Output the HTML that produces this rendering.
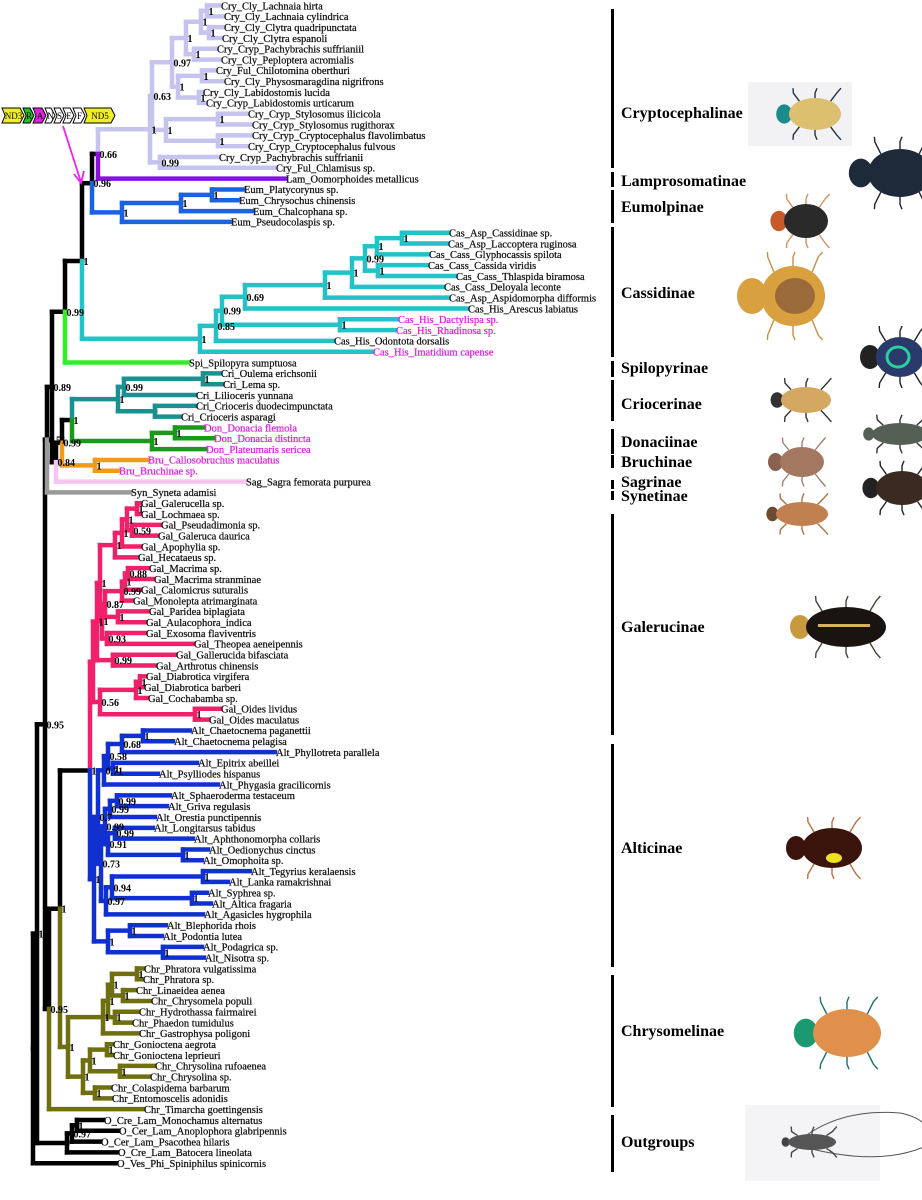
<!DOCTYPE html>
<html><head><meta charset="utf-8"><title>Chrysomelidae phylogeny</title>
<style>
html,body{margin:0;padding:0;background:#fff;}
svg{display:block;}
.leaf{font-family:"Liberation Serif",serif;font-size:10.5px;stroke-width:0.25px;}
.sup{font-family:"Liberation Serif",serif;font-size:10px;font-weight:bold;}
.fam{font-family:"Liberation Serif",serif;font-size:16px;font-weight:bold;}
.gene{font-family:"Liberation Serif",serif;font-size:9px;}
</style></head>
<body>
<svg id="chart" width="922" height="1200" viewBox="0 0 922 1200" xmlns="http://www.w3.org/2000/svg">
<g id="tree"></g>
<g id="labels"></g>
<g id="beetles"></g>
<g id="genemap"></g>
</svg>
<script>
// ---------- DATA ----------
const C={cry:'#c4c4ee',lam:'#8a10e0',eum:'#1a62e2',cas:'#22c2c6',spi:'#33ee22',cri:'#1a9090',don:'#1a9a1a',bru:'#f29a1a',sag:'#f8c4f0',syn:'#9a9a9a',gal:'#f0206a',alt:'#1030d0',chr:'#6f6f10',k:'#000'};
function L(n,x,mag){return {leaf:true,n:n,x:x,mag:!!mag};}
function N(x,s,ch,c){return {x:x,s:s,ch:ch,c:c};}
const cry=N(150,'1',[
 N(152,'0.63',[
  N(172,'0.97',[
   N(186,'1',[
    N(201,'1',[N(207,'1',[L('Cry_Cly_Lachnaia hirta',220),L('Cry_Cly_Lachnaia cylindrica',223)]),
               N(209,'1',[L('Cry_Cly_Clytra quadripunctata',223),L('Cry_Cly_Clytra espanoli',221)])]),
    N(194,'1',[L('Cry_Cryp_Pachybrachis suffrianiil',216),L('Cry_Cly_Peploptera acromialis',220)])]),
   N(178,'1',[
    N(202,'1',[L('Cry_Ful_Chilotomina oberthuri',215),L('Cry_Cly_Physosmaragdina nigrifrons',223)]),
    N(199,'1',[L('Cry_Cly_Labidostomis lucida',202),L('Cry_Cryp_Labidostomis urticarum',205)])])]),
  N(166,'1',[
   N(218,'1',[L('Cry_Cryp_Stylosomus ilicicola',247),L('Cry_Cryp_Stylosomus rugithorax',251)]),
   N(218,'1',[L('Cry_Cryp_Cryptocephalus flavolimbatus',251),L('Cry_Cryp_Cryptocephalus fulvous',247)])])]),
 N(160,'0.99',[L('Cry_Cryp_Pachybrachis suffrianii',218),L('Cry_Ful_Chlamisus sp.',275)])],C.cry);
const eum=N(122,'1',[N(181,'1',[N(212,'1',[L('Eum_Platycorynus sp.',243),L('Eum_Chrysochus chinensis',238)]),L('Eum_Chalcophana sp.',252)]),L('Eum_Pseudocolaspis sp.',230)],C.eum);
const cas=N(200,'1',[
 N(216,'0.85',[
  N(222,'0.99',[
   N(245,'0.69',[
    N(325,'1',[
     N(352,'1',[
      N(365,'0.99',[
       N(377,'1',[N(402,'1',[L('Cas_Asp_Cassidinae sp.',448),L('Cas_Asp_Laccoptera ruginosa',447)]),L('Cas_Cass_Glyphocassis spilota',428)]),
       N(378,'1',[L('Cas_Cass_Cassida viridis',427),L('Cas_Cass_Thlaspida biramosa',455)])]),
      L('Cas_Cass_Deloyala leconte',443)]),
     L('Cas_Asp_Aspidomorpha difformis',448)]),
    L('Cas_His_Arescus labiatus',467)]),
   N(340,'1',[L('Cas_His_Dactylispa sp.',397,1),L('Cas_His_Rhadinosa sp.',395,1)])]),
  L('Cas_His_Odontota dorsalis',333)]),
 L('Cas_His_Imatidium capense',372,1)],C.cas);
const cri=N(118,'1',[N(124,'0.99',[N(203,'1',[L('Cri_Oulema erichsonii',220),L('Cri_Lema sp.',222)]),L('Cri_Lilioceris yunnana',195)]),
 N(155,'',[L('Cri_Crioceris duodecimpunctata',195),L('Cri_Crioceris asparagi',180)])],C.cri);
const don=N(152,'1',[N(175,'1',[L('Don_Donacia flemola',203,1),L('Don_Donacia distincta',213,1)]),L('Don_Plateumaris sericea',205,1)],C.don);
const bru=N(95,'1',[L('Bru_Callosobruchus maculatus',147,1),L('Bru_Bruchinae sp.',118,1)],C.bru);
const gal=N(93,'',[
 N(97,'1',[
  N(100,'1',[
   N(115,'1',[N(122,'1',[N(127,'1',[N(137,'1',[L('Gal_Galerucella sp.',140),L('Gal_Lochmaea sp.',140)]),N(132,'0.59',[L('Gal_Pseudadimonia sp.',160),L('Gal_Galeruca daurica',157)])]),L('Gal_Apophylia sp.',140)]),L('Gal_Hecataeus sp.',137)]),
   N(102,'1',[
    N(105,'0.87',[N(122,'0.99',[N(125,'1',[N(128,'0.88',[L('Gal_Macrima sp.',148),L('Gal_Macrima stranminae',153)]),L('Gal_Calomicrus suturalis',140)]),L('Gal_Monolepta atrimarginata',132)]),
     N(118,'1',[L('Gal_Paridea biplagiata',148),L('Gal_Aulacophora_indica',145)])]),
    N(107,'0.93',[L('Gal_Exosoma flaviventris',145),L('Gal_Theopea aeneipennis',193)])])]),
  N(113,'0.99',[L('Gal_Gallerucida bifasciata',175),L('Gal_Arthrotus chinensis',155)])]),
 N(100,'0.56',[N(136,'1',[N(140,'1',[L('Gal_Diabrotica virgifera',145),L('Gal_Diabrotica barberi',143)]),L('Gal_Cochabamba sp.',147)]),
  N(195,'1',[L('Gal_Oides lividus',220),L('Gal_Oides maculatus',208)])])],C.gal);
const alt=N(94,'1',[
 N(98,'0.7',[
  N(104,'0.71',[N(108,'0.58',[N(122,'0.68',[N(143,'1',[L('Alt_Chaetocnema paganettii',190),L('Alt_Chaetocnema pelagisa',173)]),L('Alt_Phyllotreta parallela',275)]),
    N(113,'1',[L('Alt_Epitrix abeillei',197),L('Alt_Psylliodes hispanus',158)])]),L('Alt_Phygasia gracilicornis',218)]),
  N(101,'0.73',[
   N(105,'0.99',[N(110,'0.99',[N(117,'0.99',[L('Alt_Sphaeroderma testaceum',170),L('Alt_Griva regulasis',167)]),L('Alt_Orestia punctipennis',155)]),
    N(108,'0.91',[N(115,'0.99',[L('Alt_Longitarsus tabidus',153),L('Alt_Aphthonomorpha collaris',193)]),N(183,'1',[L('Alt_Oedionychus cinctus',208),L('Alt_Omophoita sp.',202)])])]),
   N(106,'0.97',[N(112,'0.94',[N(203,'1',[L('Alt_Tegyrius keralaensis',250),L('Alt_Lanka ramakrishnai',228)]),N(192,'1',[L('Alt_Syphrea sp.',207),L('Alt_Altica fragaria',211)])]),L('Alt_Agasicles hygrophila',203)])])]),
 N(108,'1',[N(130,'1',[L('Alt_Blephorida rhois',166),L('Alt_Podontia lutea',162)]),N(163,'1',[L('Alt_Podagrica sp.',202),L('Alt_Nisotra sp.',204)])])],C.alt);
const chr=N(68,'1',[
 N(103,'1',[N(108,'1',[N(112,'1',[N(137,'1',[L('Chr_Phratora vulgatissima',143),L('Chr_Phratora sp.',142)]),N(123,'1',[L('Chr_Linaeidea aenea',135),L('Chr_Chrysomela populi',150)])]),
   N(115,'1',[L('Chr_Hydrothassa fairmairei',138),L('Chr_Phaedon tumidulus',131)])]),L('Chr_Gastrophysa poligoni',138)]),
 N(83,'1',[N(90,'1',[N(107,'1',[L('Chr_Gonioctena aegrota',112),L('Chr_Gonioctena leprieuri',112)]),N(120,'1',[L('Chr_Chrysolina rufoaenea',154),L('Chr_Chrysolina sp.',149)])]),
  N(95,'1',[L('Chr_Colaspidema barbarum',110),L('Chr_Entomoscelis adonidis',111)])])],C.chr);
const outg=N(67,'',[N(72,'0.97',[N(77,'1',[L('O_Cre_Lam_Monochamus alternatus',103),L('O_Cer_Lam_Anoplophora glabripennis',118)]),L('O_Cer_Lam_Psacothea hilaris',100)]),L('O_Cre_Lam_Batocera lineolata',117)],C.k);
const tree=N(33,'',[
 N(37,'1',[
  N(45,'0.95',[
   N(47,'0.51',[
    N(52,'0.89',[
     N(65,'0.99',[N(82,'1',[N(92,'0.96',[N(98,'0.66',[cry,L('Lam_Oomorphoides metallicus',285)]),eum]),cas]),L('Spi_Spilopyra sumptuosa',188)]),
     N(56,'0.84',[N(62,'0.99',[N(72,'1',[cri,don]),bru]),L('Sag_Sagra femorata purpurea',245)])]),
    L('Syn_Syneta adamisi',130)]),
   N(49,'0.95',[N(60,'1',[N(90,'1',[gal,alt]),chr]),L('Chr_Timarcha goettingensis',143)])]),
  outg]),
 L('O_Ves_Phi_Spiniphilus spinicornis',116)],C.k);
const leafColors={Cry:C.cry,Lam:C.lam,Eum:C.eum,Cas:C.cas,Spi:C.spi,Cri:C.cri,Don:C.don,Bru:C.bru,Sag:C.sag,Syn:C.syn,Gal:C.gal,Alt:C.alt,Chr:C.chr,O:C.k};
const leafTop=5.5, leafStep=10.82;
const famNames=['Cryptocephalinae','Lamprosomatinae','Eumolpinae','Cassidinae','Spilopyrinae','Criocerinae','Donaciinae','Bruchinae','Sagrinae','Synetinae','Galerucinae','Alticinae','Chrysomelinae','Outgroups'];
const famStart=[9,172,190,227,361,380,429,455,480,491,514,744,975,1115];
const famEnd=[168,187,223,357,377,421,454,468,489,500,735,967,1107,1172];
const famLabelY=[118,186,212,298,373,409,447,467,487,501,632,853,1036,1147];

// ---------- DRAW ----------
const NS='http://www.w3.org/2000/svg';
const gT=document.getElementById('tree');
let li=0;
function layout(n){
  if(n.leaf){n.y=leafTop+li*leafStep;li++;return;}
  n.ch.forEach(layout);
  n.y=(n.ch[0].y+n.ch[n.ch.length-1].y)/2;
}
layout(tree);
function colorOf(n){ if(n.leaf){const p=n.n.split('_')[0];return leafColors[p]||'#000';} return n.c||null; }
function assign(n,inh){ const c=colorOf(n)||inh; n.col=c; if(!n.leaf) n.ch.forEach(ch=>assign(ch,c)); }
assign(tree,C.k);
function line(x1,y1,x2,y2,c,name){
  const l=document.createElementNS(NS,'line');
  l.setAttribute('x1',x1);l.setAttribute('y1',y1);l.setAttribute('x2',x2);l.setAttribute('y2',y2);
  l.setAttribute('stroke',c);l.setAttribute('stroke-width',4.5);l.setAttribute('stroke-linecap','square');
  
  
  gT.appendChild(l);
}
const labelsLater=[];
function draw(n){
  if(n.leaf){
    const t=document.createElementNS(NS,'text');
    t.setAttribute('x',n.x+1);t.setAttribute('y',n.y+3.8);t.setAttribute('class','leaf');
    const col=n.mag?'#e020e0':'#111';
    t.setAttribute('fill',col);t.setAttribute('stroke',col);
    t.textContent=n.n;
    
    
    labelsLater.push(t);return;
  }
  n.ch.forEach(ch=>{
    line(n.x,n.y,n.x,ch.y,ch.col,'branch-vertical');
    line(n.x,ch.y,ch.x,ch.y,ch.col,'branch');
    draw(ch);
  });
  if(n.s){
    const t=document.createElementNS(NS,'text');
    t.setAttribute('x',n.x+1.5);t.setAttribute('y',n.y+4);t.setAttribute('class','sup');
    t.textContent=n.s;
    
    
    labelsLater.push(t);
  }
}
draw(tree);
labelsLater.forEach(t=>gT.appendChild(t));

const gL=document.getElementById('labels');
famNames.forEach((f,i)=>{
  const r=document.createElementNS(NS,'rect');
  r.setAttribute('x',611);r.setAttribute('y',famStart[i]);r.setAttribute('width',3);r.setAttribute('height',famEnd[i]-famStart[i]);r.setAttribute('fill','#000');
  
  
  gL.appendChild(r);
  const t=document.createElementNS(NS,'text');
  t.setAttribute('x',621);t.setAttribute('y',famLabelY[i]);t.setAttribute('class','fam');t.textContent=f;
  
  
  gL.appendChild(t);
});
</script>
<script>
(function(){
const NS='http://www.w3.org/2000/svg';
const g=document.getElementById('beetles');
function el(tag,attrs,name){const e=document.createElementNS(NS,tag);for(const k in attrs)e.setAttribute(k,attrs[k]);
 
 
 g.appendChild(e);return e;}
function legs(cx,cy,rx,ry,col){
  [-0.6,0,0.6].forEach(f=>{
    const x=cx+f*rx;
    el('path',{d:`M${x} ${cy-ry*0.8} l${f*10} ${-ry*0.5} l${f*4+2} ${-5}`,stroke:col,'stroke-width':1.4,fill:'none'},'beetle-leg');
    el('path',{d:`M${x} ${cy+ry*0.8} l${f*10} ${ry*0.5} l${f*4+2} ${5}`,stroke:col,'stroke-width':1.4,fill:'none'},'beetle-leg');
  });
}
function beetle(cx,cy,rx,ry,body,head,legc,name){
  legs(cx,cy,rx,ry,legc);
  el('ellipse',{cx:cx-rx-ry*0.3,cy:cy,rx:ry*0.5,ry:ry*0.6,fill:head},name+'-head');
  el('ellipse',{cx:cx,cy:cy,rx:rx,ry:ry,fill:body},name+'-body');
}
el('rect',{x:748,y:82,width:104,height:64,fill:'#f2f2f4'},'photo-background');
beetle(815,114,26,16,'#dcc070','#1a8a8a','#234','cryptocephalinae-beetle');
beetle(900,173,32,24,'#1c2a3a','#1c2a3a','#223','lamprosomatinae-beetle');
beetle(806,221,22,17,'#2a2a2a','#c85a2a','#d89060','eumolpinae-beetle');
beetle(793,296,32,30,'#d9a040','#d9a040','#c89040','cassidinae-beetle');
el('ellipse',{cx:795,cy:296,rx:20,ry:18,fill:'#9a6a3a'},'cassidinae-disc');
beetle(900,357,24,20,'#2a3a6a','#222','#222','spilopyrinae-beetle');
el('ellipse',{cx:898,cy:357,rx:11,ry:10,fill:'none',stroke:'#2ad0a0','stroke-width':3},'spilopyrinae-pattern');
beetle(806,400,25,13,'#d4a860','#333','#333','criocerinae-beetle');
beetle(900,434,28,11,'#556055','#556055','#333','donaciinae-beetle');
beetle(802,462,22,15,'#a47860','#8a6050','#a08070','bruchinae-beetle');
beetle(902,488,26,17,'#3a2a22','#222','#222','sagrinae-beetle');
beetle(802,514,26,12,'#c08050','#6a4a30','#b07040','synetinae-beetle');
beetle(846,627,40,20,'#1a1410','#c89a40','#443','galerucinae-beetle');
el('rect',{x:818,y:624,width:52,height:3,fill:'#d8b060'},'galerucinae-stripe');
beetle(832,848,30,20,'#3a140a','#3a140a','#c07040','alticinae-beetle');
el('ellipse',{cx:834,cy:858,rx:8,ry:5,fill:'#f0e020'},'alticinae-spot');
beetle(847,1033,34,24,'#e0904a','#1a9a70','#1a7070','chrysomelinae-beetle');
el('rect',{x:745,y:1105,width:135,height:76,fill:'#f4f4f6'},'outgroup-photo-background');
el('path',{d:'M800 1140 Q840 1108 900 1113 Q935 1120 928 1145 Q880 1168 800 1146',stroke:'#555','stroke-width':1,fill:'none'},'outgroup-antennae');
beetle(812,1142,24,8,'#555','#444','#444','outgroup-beetle');
})();
</script>
<script>
(function(){
const NS='http://www.w3.org/2000/svg';
const g=document.getElementById('genemap');
const genes=['ND3','R','A','N','S','E','F','ND5'];
const geneStart=[2,23,33,45,54,63,73,84];
const geneEnd=[23,33,45,54,63,73,84,114];
const geneFill=['#f0f020','#22c022','#e020e0','#fff','#fff','#fff','#fff','#f0f020'];
genes.forEach((gn,i)=>{
  const x0=geneStart[i],x1=geneEnd[i],y0=108,y1=123,m=(y0+y1)/2;
  const p=document.createElementNS(NS,'path');
  p.setAttribute('d',`M${x0} ${y0} L${x1-3} ${y0} L${x1+1} ${m} L${x1-3} ${y1} L${x0} ${y1} L${x0+3} ${m} Z`);
  p.setAttribute('fill',geneFill[i]);p.setAttribute('stroke','#000');p.setAttribute('stroke-width',1);
  
  
  g.appendChild(p);
  const t=document.createElementNS(NS,'text');
  t.setAttribute('x',(x0+x1)/2+1);t.setAttribute('y',119);t.setAttribute('text-anchor','middle');t.setAttribute('class','gene');
  t.textContent=gn;
  
  
  g.appendChild(t);
});
const a=document.createElementNS(NS,'path');
a.setAttribute('d','M63 126 L81 182 M74 174 L81 183 L84 171');
a.setAttribute('stroke','#f020f0');a.setAttribute('stroke-width',1.8);a.setAttribute('fill','none');


g.appendChild(a);
})();
</script>
</body></html>
